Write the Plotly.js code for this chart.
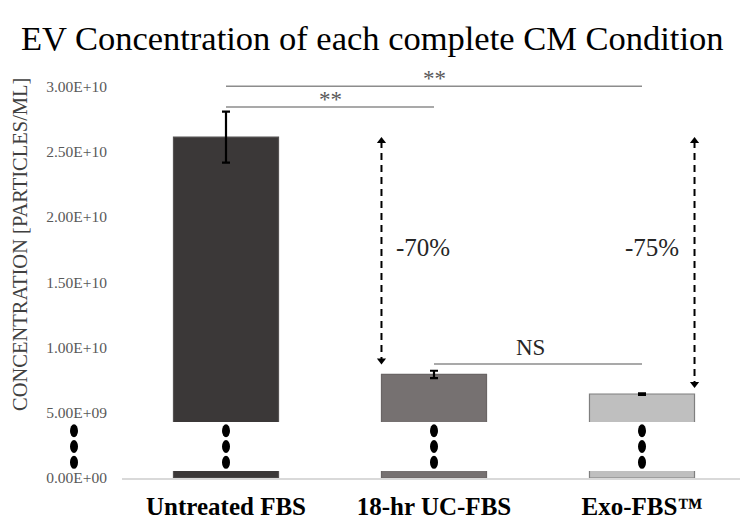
<!DOCTYPE html>
<html>
<head>
<meta charset="utf-8">
<script src="https://cdn.plot.ly/plotly-3.0.1.min.js"></script>
<style>html,body{margin:0;padding:0;background:#fff;}#chart{width:740px;height:524px;}</style>
</head>
<body>
<div id="chart"></div>
<script>
// ---- data ----
const categories = ['Untreated FBS', '18-hr UC-FBS', 'Exo-FBS™'];
const concentration = [2.61e10, 7.93e9, 6.43e9];
const errorSD = [1.95e9, 2.8e8, 6e7];
const barColors = ['#3b3838', '#767171', '#bfbfbf'];
const barLineColors = ['#555252', '#6a6565', '#7f7f7f'];
const yTickVals = [0, 5e9, 1e10, 1.5e10, 2e10, 2.5e10, 3e10];
const yTickText = ['0.00E+00', '5.00E+09', '1.00E+10', '1.50E+10', '2.00E+10', '2.50E+10', '3.00E+10'];
const sigPairs = [[0, 2], [0, 1], [1, 2]];
const sigLabels = ['**', '**', 'NS'];
const sigLevels = [3.0e10, 2.84e10, 8.72e9];

// ---- geometry helpers ----
const FONT = 'Liberation Serif, Times New Roman, serif';
const idx = categories.map((c, i) => i);
const barW = 0.505;
const yMax = 3.3e10;
const plotH = 524 - 47 - 46;
const perPx = yMax / plotH;
const breakLo = 0.54e9, breakHi = 4.28e9;

const traces = [{
  type: 'bar',
  x: idx,
  y: concentration,
  width: barW,
  marker: {color: barColors, line: {color: barLineColors, width: 1.2}},
  error_y: {type: 'data', array: errorSD, visible: true, color: '#000', thickness: 2.2, width: 4},
  hoverinfo: 'skip'
}];

// dashed reduction arrows from control level to each treated bar
const arrowGap = [10, 6];
[1, 2].forEach((i, k) => {
  const xEdge = k === 0 ? i - barW / 2 : i + barW / 2;
  const yTop = concentration[0] - 4 * perPx;
  const yBot = concentration[i] + (arrowGap[k] + 4) * perPx;
  traces.push({
    type: 'scatter', mode: 'lines+markers',
    x: [xEdge, xEdge], y: [yTop, yBot],
    line: {color: '#000', width: 2, dash: '7px,5px'},
    marker: {symbol: ['triangle-up', 'triangle-down'], size: 8, color: '#000'},
    hoverinfo: 'skip'
  });
});

const shapes = [];
// axis break (white gap)
shapes.push({type: 'rect', xref: 'paper', yref: 'y', x0: 0, x1: 1, y0: breakLo, y1: breakHi,
  fillcolor: '#fff', line: {width: 0}, layer: 'above'});
// break dots
const dotY = [0, 1, 2].map(k => breakLo + (breakHi - breakLo) * (k + 0.55) / 3.1);
idx.forEach(i => dotY.forEach(y => shapes.push({
  type: 'circle', xref: 'x', yref: 'y', xsizemode: 'pixel', ysizemode: 'pixel',
  xanchor: i, yanchor: y, x0: -4, x1: 4, y0: -6.5, y1: 6.5,
  fillcolor: '#000', line: {width: 0}, layer: 'above'})));
const axisDotX = (74 - 122) / 618;
dotY.forEach(y => shapes.push({
  type: 'circle', xref: 'paper', yref: 'y', xsizemode: 'pixel', ysizemode: 'pixel',
  xanchor: axisDotX, yanchor: y, x0: -4, x1: 4, y0: -6.5, y1: 6.5,
  fillcolor: '#000', line: {width: 0}, layer: 'above'}));
// significance lines
sigPairs.forEach((p, k) => shapes.push({
  type: 'line', xref: 'x', yref: 'y', x0: p[0], x1: p[1], y0: sigLevels[k], y1: sigLevels[k],
  line: {color: '#8c8c8c', width: 1.5}, layer: 'above'}));

const annotations = [];
sigPairs.forEach((p, k) => {
  const isNS = sigLabels[k] === 'NS';
  annotations.push({
    xref: 'x', yref: 'y', x: (p[0] + p[1]) / 2 + (isNS ? -0.035 : 0), y: sigLevels[k],
    text: sigLabels[k], showarrow: false, xanchor: 'center', yanchor: 'bottom',
    yshift: isNS ? 2 : -7,
    font: {family: FONT, size: 23, color: isNS ? '#262626' : '#595959'}
  });
});
// percent reduction labels
[1, 2].forEach((i, k) => {
  const pct = Math.round((1 - concentration[i] / concentration[0]) * 100);
  annotations.push({
    xref: 'x', yref: 'y', x: k === 0 ? i - 0.053 : i + 0.048, y: 1.768e10,
    text: '-' + pct + '%', showarrow: false, xanchor: 'center', yanchor: 'middle',
    font: {family: FONT, size: 25, color: '#262626'}
  });
});
// y-axis title
annotations.push({
  xref: 'paper', yref: 'paper', x: (20 - 122) / 618, y: (478 - 245) / plotH,
  text: 'CONCENTRATION [PARTICLES/ML]', textangle: -90, showarrow: false,
  xanchor: 'center', yanchor: 'middle',
  font: {family: FONT, size: 20.5, color: '#404040'}
});

const layout = {
  width: 740, height: 524,
  margin: {l: 122, r: 0, t: 47, b: 46},
  paper_bgcolor: '#fff', plot_bgcolor: '#fff',
  showlegend: false, hovermode: false,
  title: {
    text: 'EV Concentration of each complete CM Condition',
    x: 0.503, xanchor: 'center', y: 1 - 38 / 524, yanchor: 'middle', yref: 'container',
    font: {family: FONT, size: 34.5, color: '#000'}
  },
  xaxis: {
    range: [-0.5, -0.5 + 618 / 208], tickvals: idx, ticktext: categories,
    showgrid: false, zeroline: false, showline: true, linecolor: '#d9d9d9', linewidth: 1.5,
    ticks: '', ticklabelstandoff: 5,
    tickfont: {family: FONT, size: 25, color: '#000', weight: 'bold'}
  },
  yaxis: {
    range: [0, yMax], tickvals: yTickVals, ticktext: yTickText,
    showgrid: false, zeroline: false, showline: false, ticks: '',
    ticklabelstandoff: 14,
    tickfont: {family: FONT, size: 15.5, color: '#595959'}
  },
  shapes: shapes,
  annotations: annotations
};

Plotly.newPlot('chart', traces, layout, {staticPlot: true, displayModeBar: false});
</script>
</body>
</html>
